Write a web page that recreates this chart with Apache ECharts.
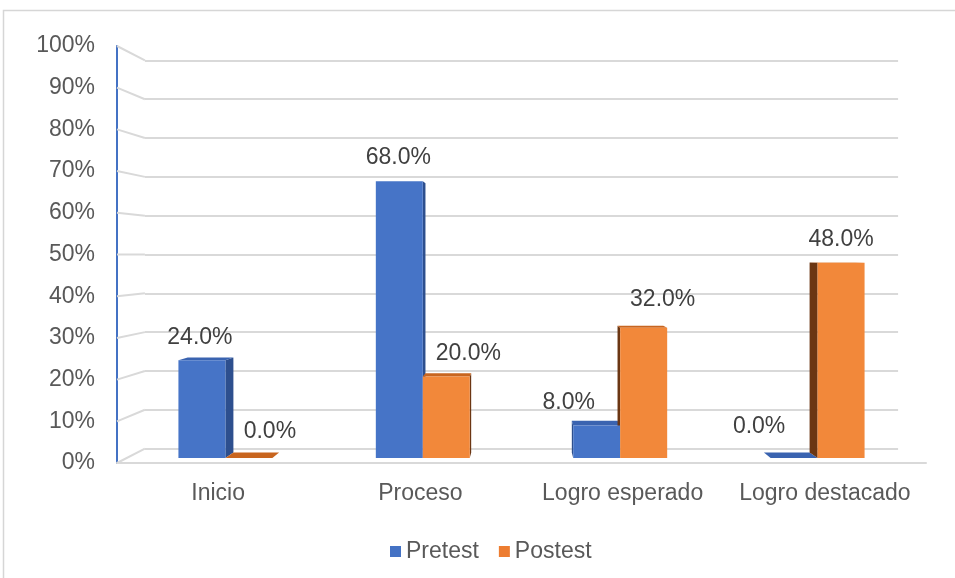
<!DOCTYPE html>
<html>
<head>
<meta charset="utf-8">
<script src="https://cdn.jsdelivr.net/npm/echarts@6/dist/echarts.min.js"></script>
<style>
  html, body { margin: 0; padding: 0; background: #ffffff; }
  #chart { width: 955px; height: 578px; }
</style>
</head>
<body>
<div id="chart"></div>
<script>
// ---- data ----
const CATEGORIES = ['Inicio', 'Proceso', 'Logro esperado', 'Logro destacado'];
const SERIES_NAMES = ['Pretest', 'Postest'];
const PRETEST = [24.0, 68.0, 8.0, 0.0];
const POSTEST = [0.0, 20.0, 32.0, 48.0];
const Y_TICKS = [0, 10, 20, 30, 40, 50, 60, 70, 80, 90, 100];

// ---- label nudges (px, relative to the default spot above each bar) ----
const PRETEST_LABEL_SHIFT = [[-2, 0], [-1, -1], [-28, 0], [-35, -8]];
const POSTEST_LABEL_SHIFT = [[21, -3], [22, 0], [19, -5], [0, 0]];

// ---- look ----
const FONT = '"Liberation Sans", Arial, sans-serif';
const W = 955, H = 578;
const FRONT = { left: 117, right: 926, top: 46, bottom: 463 };   // front plane of the 3D box
const VP = [(FRONT.left + FRONT.right) / 2, (FRONT.top + FRONT.bottom) / 2]; // vanishing point
const K_WALL = 0.069;   // depth of the back wall
const K_BAR = 0.024;    // depth of the bars' front faces
const K_DEPTH = 0.027;  // thickness of each bar
const BAR_FRAC = 0.238; // bar width as a share of the category band
const FACES = {
  Pretest: { base: '#4472C4', front: '#4674C7', side: '#2D4F8E', top: '#3A63B0' },
  Postest: { base: '#ED7D31', front: '#F2883A', side: '#6B3613', top: '#C8651F' }
};

function toward(p, k) {
  return [VP[0] + (p[0] - VP[0]) * (1 - k), VP[1] + (p[1] - VP[1]) * (1 - k)];
}
function plane(k) {
  const a = toward([FRONT.left, FRONT.top], k);
  const b = toward([FRONT.right, FRONT.bottom], k);
  return { left: a[0], top: a[1], right: W - b[0], bottom: H - b[1], containLabel: false };
}

function barSeries(name, values, sideSign, shifts) {
  const f = FACES[name];
  return {
    name: name,
    type: 'custom',
    xAxisIndex: 2,
    yAxisIndex: 2,
    z: 3,
    itemStyle: { color: f.base },
    encode: { x: 0, y: 1 },
    data: values.map((v, i) => [i, v]),
    renderItem: function (params, api) {
      const i = api.value(0), v = api.value(1);
      const c = api.coord([i, v]);
      const base = api.coord([i, 0]);
      const bw = api.size([1, 0])[0] * BAR_FRAC;
      const x0 = sideSign < 0 ? c[0] - bw : c[0];
      const x1 = x0 + bw;
      const yT = c[1], yB = base[1];
      const kids = [];
      // side face, seen on the side facing the vanishing point
      if (x1 < VP[0]) {
        kids.push({ type: 'polygon', z2: 1, shape: { points: [[x1, yT], toward([x1, yT], K_DEPTH), toward([x1, yB], K_DEPTH), [x1, yB]] }, style: { fill: f.side } });
      } else if (x0 > VP[0]) {
        kids.push({ type: 'polygon', z2: 1, shape: { points: [[x0, yT], toward([x0, yT], K_DEPTH), toward([x0, yB], K_DEPTH), [x0, yB]] }, style: { fill: f.side } });
      }
      // top face, visible below the horizon
      if (yT > VP[1]) {
        kids.push({ type: 'polygon', z2: 1, shape: { points: [[x0, yT], [x1, yT], toward([x1, yT], K_DEPTH), toward([x0, yT], K_DEPTH)] }, style: { fill: f.top } });
      }
      // front face
      if (yB - yT > 0.5) {
        kids.push({ type: 'rect', z2: 5, shape: { x: x0, y: yT, width: bw, height: yB - yT }, style: { fill: f.front } });
      }
      // value label
      const s = shifts[i];
      kids.push({
        type: 'text', z2: 10,
        style: {
          text: v.toFixed(1) + '%',
          x: (x0 + x1) / 2 + s[0], y: yT - 23 + s[1],
          fill: '#404040', fontSize: 23, fontFamily: FONT,
          align: 'center', verticalAlign: 'middle'
        }
      });
      return { type: 'group', children: kids };
    }
  };
}

const chart = echarts.init(document.getElementById('chart'), null, { renderer: 'canvas' });

const option = {
  backgroundColor: '#ffffff',
  animation: false,
  graphic: [{
    type: 'rect', silent: true, z: 0,
    shape: { x: 3.5, y: 10.5, width: 1000, height: 1000 },
    style: { fill: 'none', stroke: '#d6d6d6', lineWidth: 1.5 }
  }],
  legend: {
    data: SERIES_NAMES,
    left: 385, top: 535,
    icon: 'rect', itemWidth: 11, itemHeight: 11, itemGap: 20,
    textStyle: { fontSize: 23, color: '#595959', fontFamily: FONT }
  },
  grid: [plane(0), plane(K_WALL), plane(K_BAR)],
  xAxis: [
    {
      type: 'category', gridIndex: 0, data: CATEGORIES,
      axisLine: { show: true, lineStyle: { color: '#d9d9d9', width: 2 } },
      axisTick: { show: false },
      axisLabel: { interval: 0, margin: 19, fontSize: 23, color: '#595959', fontFamily: FONT }
    },
    { type: 'category', gridIndex: 1, data: CATEGORIES, show: false },
    { type: 'category', gridIndex: 2, data: CATEGORIES, show: false }
  ],
  yAxis: [
    {
      type: 'value', gridIndex: 0, min: Y_TICKS[0], max: Y_TICKS[Y_TICKS.length - 1], interval: 10,
      axisLine: { show: true, lineStyle: { color: '#4472C4', width: 2 } },
      axisTick: { show: false },
      splitLine: { show: false },
      axisLabel: { formatter: '{value}%', margin: 22, fontSize: 23, color: '#595959', fontFamily: FONT }
    },
    {
      type: 'value', gridIndex: 1, min: Y_TICKS[0], max: Y_TICKS[Y_TICKS.length - 1], interval: 10,
      axisLine: { show: false }, axisTick: { show: false }, axisLabel: { show: false },
      splitLine: { show: true, lineStyle: { color: '#d9d9d9', width: 2 } }
    },
    {
      type: 'value', gridIndex: 2, min: Y_TICKS[0], max: Y_TICKS[Y_TICKS.length - 1], interval: 10,
      show: false, splitLine: { show: false }
    }
  ],
  series: [
    {
      // left wall: joins each front tick to its back-wall gridline
      name: 'wall', type: 'custom', xAxisIndex: 0, yAxisIndex: 0, silent: true, z: 1,
      data: Y_TICKS.map(v => [0, v]),
      renderItem: function (params, api) {
        const y = api.coord([0, api.value(1)])[1];
        const f = [params.coordSys.x, y];
        const b = toward(f, K_WALL);
        return { type: 'line', shape: { x1: f[0], y1: f[1], x2: b[0], y2: b[1] }, style: { stroke: '#d9d9d9', lineWidth: 2 } };
      }
    },
    barSeries('Pretest', PRETEST, -1, PRETEST_LABEL_SHIFT),
    barSeries('Postest', POSTEST, 1, POSTEST_LABEL_SHIFT)
  ]
};

chart.setOption(option);
</script>
</body>
</html>
